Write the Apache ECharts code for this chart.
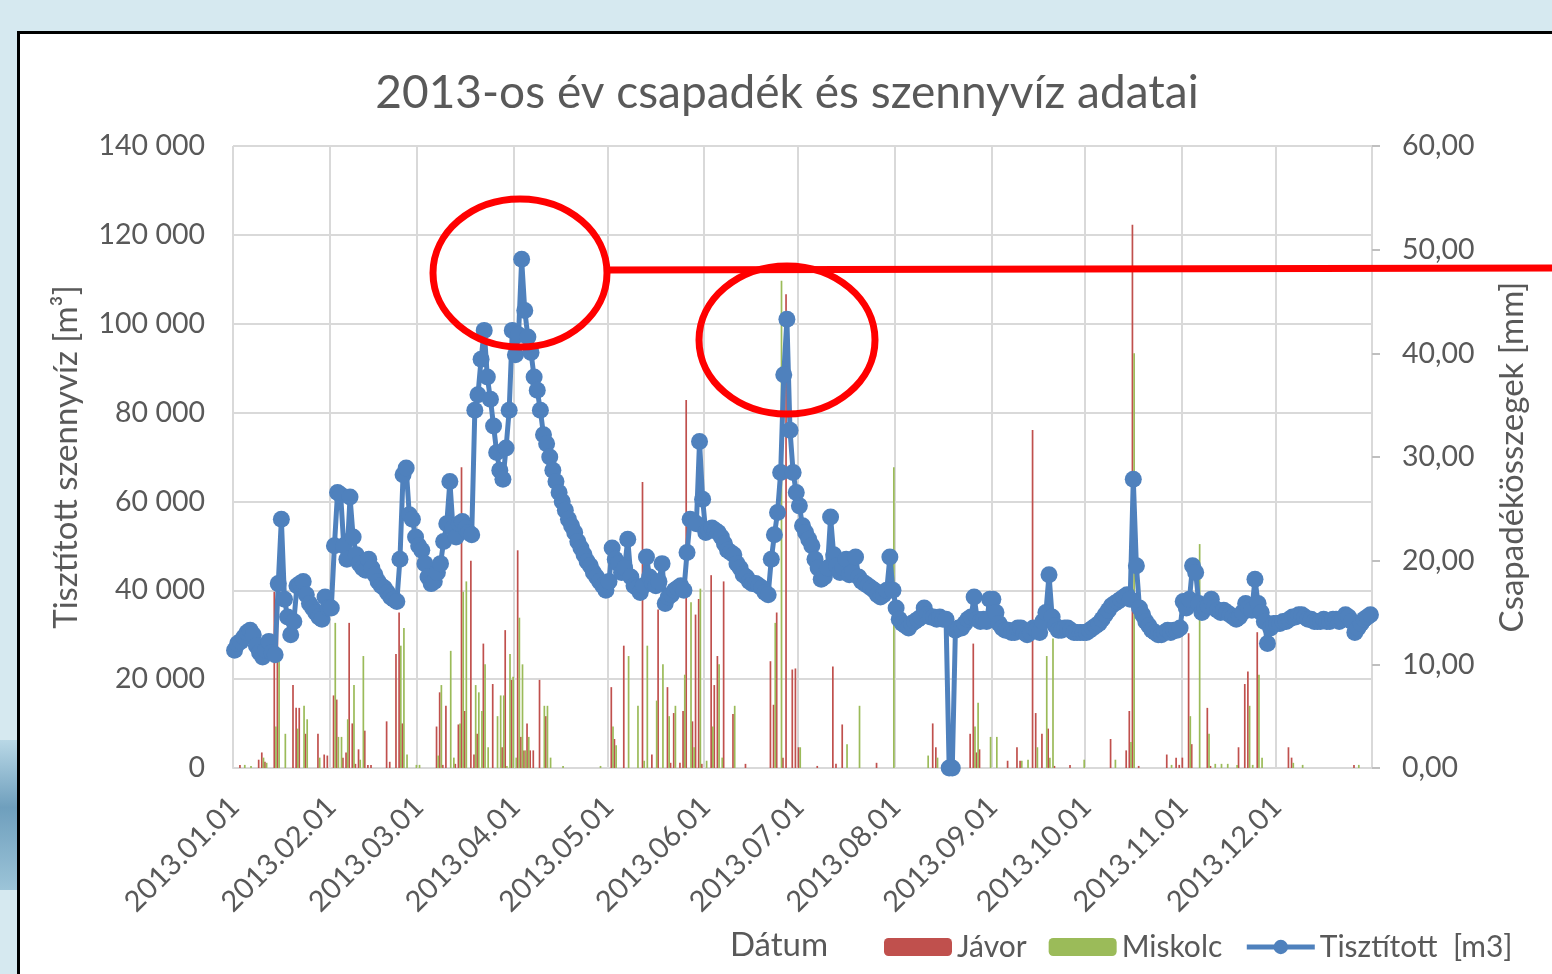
<!DOCTYPE html>
<html>
<head>
<meta charset="utf-8">
<script src="https://cdn.jsdelivr.net/npm/echarts@6/dist/echarts.min.js"></script>
<style>
    html, body { margin: 0; padding: 0; }
    body { width: 1552px; height: 974px; background: #d6e9f0; overflow: hidden; position: relative; }
    .water { position: absolute; left: 0; top: 740px; width: 17px; height: 150px;
        background: linear-gradient(180deg, #b9d8e6 0%, #6f9fbd 45%, #9cc4d8 100%); }
    .frame { position: absolute; left: 17px; top: 31px; width: 1560px; height: 960px;
        background: #fff; border: 3px solid #000; box-sizing: border-box; }
    #chart { position: absolute; left: 0; top: 0; width: 1552px; height: 974px; }
</style>
</head>
<body>
<div class="water"></div>
<div class="frame"></div>
<div id="chart"></div>
<script>
// 2013-as napi adatok: tisztított szennyvíz [m3] (bal tengely), csapadék [mm] (jobb tengely)

const MONTH_LABELS = ['2013.01.01', '2013.02.01', '2013.03.01', '2013.04.01', '2013.05.01', '2013.06.01',
    '2013.07.01', '2013.08.01', '2013.09.01', '2013.10.01', '2013.11.01', '2013.12.01']
const MONTH_DAYS = [31, 28, 31, 30, 31, 30, 31, 31, 30, 31, 30, 31]
const Y_LEFT_TICKS = [0, 20000, 40000, 60000, 80000, 100000, 120000, 140000]
const Y_RIGHT_TICKS = [0, 10, 20, 30, 40, 50, 60]

// tisztított szennyvíz havonta, naponként [m3]
const tisztJan = [26500, 28000, 28500, 29500, 30500, 31000, 30000, 27500, 26000, 25000,
    26500, 28500, 26000, 25500, 41500, 56000, 38000, 34000, 30000, 33000,
    41000, 41500, 42000, 39000, 37000, 36000, 35000, 34000, 33500, 38500, 36000]
const tisztFeb = [36000, 50000, 62000, 61500, 50000, 47000, 61000, 52000, 48000, 46000,
    45000, 44500, 47000, 45000, 43500, 42000, 41000, 40500, 39500, 38500,
    38000, 37500, 47000, 66000, 67500, 57000, 56000, 52000]
const tisztMar = [50000, 49000, 46000, 43000, 41500, 42000, 44000, 46000, 51000, 55000,
    64500, 54000, 52000, 55000, 55500, 54000, 53000, 52500, 80500, 84000,
    92000, 98500, 88000, 83000, 77000, 71000, 67000, 65000, 72000, 80500, 98500]
const tisztApr = [93000, 97500, 114500, 103000, 97000, 93500, 88000, 85000, 80500, 75000,
    73000, 70000, 67000, 64500, 62000, 60000, 58000, 56000, 54500, 53000,
    51000, 49500, 48000, 46500, 45500, 44000, 43000, 42000, 41000, 40000]
const tisztMay = [42000, 49500, 47000, 46000, 44000, 45000, 51500, 43000, 41000, 40500,
    39500, 41000, 47500, 43000, 41500, 41000, 42000, 46000, 37000, 38500,
    39000, 40000, 40500, 41000, 40000, 48500, 56000, 55500, 55000, 73500, 60500]
const tisztJun = [53000, 53500, 54000, 53500, 53000, 52000, 50500, 49000, 48500, 48000,
    46000, 45000, 43500, 43000, 42000, 41500, 41500, 41000, 40500, 39500,
    39000, 47000, 52500, 57500, 66500, 88500, 101000, 76000, 66500, 62000]
const tisztJul = [59000, 54500, 53000, 51500, 50000, 47000, 45000, 42500, 43000, 45000,
    56500, 48000, 45500, 44000, 45000, 47000, 43500, 44000, 47500, 43000,
    42000, 41500, 41000, 40500, 40000, 39000, 38500, 39000, 40000, 47500, 40000]
const tisztAug = [36000, 33500, 32500, 32000, 31500, 32500, 33000, 33500, 34000, 36000,
    34500, 34000, 34000, 33500, 34000, 33500, 33500, 0, 0, 31000,
    31500, 31500, 32500, 33500, 34000, 38500, 33500, 33000, 33500, 33000, 38000]
const tisztSep = [38000, 35000, 32500, 31500, 31000, 31000, 30500, 30500, 31500, 31500,
    30500, 30000, 30500, 31500, 31000, 30500, 33000, 35000, 43500, 34000,
    32000, 31000, 31000, 31500, 31500, 31000, 30500, 30500, 30500, 30500]
const tisztOct = [30500, 31000, 31500, 32000, 32500, 33500, 34500, 35500, 36500, 37000,
    37500, 38000, 38500, 39000, 38000, 65000, 45500, 36000, 34500, 33000,
    32000, 31000, 30500, 30000, 30000, 30500, 31000, 30500, 31000, 31000, 31500]
const tisztNov = [37500, 36000, 38000, 45500, 44000, 37000, 35000, 36000, 36500, 38000,
    36000, 35500, 35000, 35500, 35000, 34500, 34000, 33500, 34000, 35000,
    37000, 36000, 35500, 42500, 37000, 35000, 33000, 28000, 31500, 32500]
const tisztDec = [32500, 32500, 33000, 33000, 33500, 34000, 34000, 34500, 34500, 34000,
    33500, 33500, 33000, 33000, 33000, 33500, 33000, 33000, 33500, 33500,
    33000, 33500, 34500, 34000, 33000, 30500, 31500, 32500, 33500, 34000, 34500]

// csapadék [napindex, mm] - csak az esős napok
const javorRain = [[2, 0.3], [8, 0.8], [9, 1.5], [10, 0.6], [13, 17], [14, 17], [19, 8], [20, 5.8], [21, 5.8],
    [23, 3.3], [27, 3.3], [29, 1.3], [30, 1.2], [32, 7], [33, 6.6], [35, 1], [36, 1.5], [37, 14], [38, 4.3],
    [39, 0.4], [40, 1.8], [42, 3.6], [43, 0.3], [44, 0.3], [49, 4.5], [50, 0.6], [52, 11], [53, 15], [54, 4.3],
    [65, 4], [66, 7.3], [67, 0.3], [68, 6], [71, 0.4], [72, 4.2], [73, 29], [74, 5.5], [76, 20], [77, 1.3],
    [78, 3.3], [80, 12], [83, 8.1], [86, 2], [87, 13.3], [89, 8.5], [91, 21], [92, 3], [93, 1.7], [94, 4.3],
    [95, 1.7], [96, 1.7], [98, 8.5], [100, 5],
    [121, 7.8], [122, 2.8], [125, 11.8], [131, 27.6], [134, 1.3], [136, 15.3], [139, 7.8], [140, 0.5],
    [141, 5.3], [143, 0.5], [144, 5.5], [145, 35.5], [147, 4.5], [148, 14.8], [149, 16.3], [150, 0.4],
    [153, 18.6], [154, 8], [155, 10.8], [157, 18], [160, 5.2], [164, 0.4], [172, 10.3], [173, 6.1], [174, 15],
    [176, 1], [177, 45.7], [179, 9.5], [180, 9.6],
    [181, 2], [187, 0.2], [192, 9.8], [193, 0.4], [195, 4.2], [206, 0.5], [224, 4.3], [225, 2], [236, 3.3],
    [237, 12], [238, 1.5], [239, 1.8],
    [248, 0.7], [251, 2], [252, 0.7], [256, 32.6], [257, 5.3], [259, 3.3], [261, 3.8], [263, 0.2], [268, 0.3],
    [281, 2.8], [286, 1.7], [287, 5.5], [288, 52.4], [290, 0.2], [299, 1.3], [302, 1],
    [303, 0.3], [304, 1], [306, 13], [307, 2.3], [312, 5.8], [313, 0.2], [322, 2], [324, 8.1], [325, 9.3],
    [328, 13.1], [338, 2], [339, 1], [359, 0.3]]
const miskolcRain = [[3, 0.3], [5, 0.2], [9, 1], [10, 0.5], [13, 4], [14, 10.3], [16, 3.3], [20, 3.8], [22, 6],
    [23, 4.7], [27, 1], [32, 14], [33, 3], [34, 3], [36, 4.7], [38, 8], [40, 0.8], [41, 10.8], [53, 11.8],
    [54, 13.5], [55, 1.3], [58, 0.3],
    [59, 0.3], [65, 1.2], [66, 8], [69, 11.3], [70, 1], [72, 4.3], [73, 17], [74, 18], [77, 8], [78, 7.3],
    [79, 5.5], [80, 10], [81, 2], [84, 5], [85, 7], [86, 7], [87, 0.2], [88, 11], [89, 8.8], [90, 1], [91, 14.5],
    [92, 10], [93, 1.7], [94, 3], [99, 6], [100, 6], [101, 1], [105, 0.2], [117, 0.2],
    [121, 4], [122, 2.2], [126, 10.8], [129, 6], [131, 0.7], [132, 11.8], [135, 6.5], [137, 10], [139, 5],
    [141, 6], [144, 9], [146, 16], [147, 2], [149, 17.3], [151, 0.7], [153, 4], [155, 10], [156, 1], [160, 6],
    [173, 14], [175, 47], [181, 2],
    [196, 2.3], [200, 6], [211, 29], [222, 1.2], [225, 1], [237, 4], [238, 6.3], [242, 3],
    [244, 3], [252, 0.7], [254, 0.8], [257, 2], [260, 10.8], [261, 1], [262, 12.5], [272, 0.8], [282, 0.8],
    [287, 2.5], [288, 40], [300, 0.3],
    [306, 5], [309, 21.6], [312, 3.3], [314, 0.4], [316, 0.4], [318, 0.4], [321, 0.3], [325, 6], [326, 0.3],
    [328, 9], [329, 1], [339, 0.5], [342, 0.3], [360, 0.3]]

const FONT = 'Lato'
const TEXT = '#595959'
const GRID = '#d9d9d9'
const BLUE = '#4f81bd'

// napok (kategóriák) a hónapokból
const days = []
const monthStart = {}
MONTH_DAYS.forEach((n, m) => {
    monthStart[days.length] = true
    for (let d = 1; d <= n; d++) {
        days.push(`2013.${String(m + 1).padStart(2, '0')}.${String(d).padStart(2, '0')}`)
    }
})

const tisztitott = [].concat(tisztJan, tisztFeb, tisztMar, tisztApr, tisztMay, tisztJun,
    tisztJul, tisztAug, tisztSep, tisztOct, tisztNov, tisztDec)

function toDaily(events) {
    const arr = days.map(() => 0)
    events.forEach(([i, v]) => { arr[i] = v })
    return arr
}

const thousands = v => String(v).replace(/\B(?=(\d{3})+(?!\d))/g, ' ')

const chart = echarts.init(document.getElementById('chart'), null, { renderer: 'canvas' })

chart.setOption({
    animation: false,
    textStyle: { fontFamily: FONT },
    grid: { left: 233, right: 180, top: 146, bottom: 206 },
    legend: {
        left: 879,
        top: 927,
        itemWidth: 68,
        itemHeight: 18,
        itemGap: 22,
        textStyle: { fontFamily: FONT, fontSize: 30, color: TEXT },
        data: ['Jávor', 'Miskolc', {
            name: 'Tisztított  [m3]',
            lineStyle: { width: 5, color: BLUE },
            itemStyle: { color: BLUE }
        }]
    },
    xAxis: {
        type: 'category',
        data: days,
        boundaryGap: true,
        axisLine: { lineStyle: { color: GRID, width: 2 } },
        axisTick: { show: false },
        splitLine: {
            show: true,
            interval: i => !!monthStart[i],
            lineStyle: { color: GRID, width: 2 }
        },
        axisLabel: {
            interval: i => !!monthStart[i],
            rotate: 45,
            margin: 34,
            fontSize: 29,
            color: TEXT,
            fontFamily: FONT,
            formatter: v => MONTH_LABELS.indexOf(v) >= 0 ? v : ''
        }
    },
    yAxis: [{
        type: 'value',
        min: Y_LEFT_TICKS[0],
        max: Y_LEFT_TICKS[Y_LEFT_TICKS.length - 1],
        interval: Y_LEFT_TICKS[1] - Y_LEFT_TICKS[0],
        name: 'Tisztított szennyvíz [m³]',
        nameLocation: 'middle',
        nameRotate: 90,
        nameGap: 150,
        nameTextStyle: { fontFamily: FONT, fontSize: 33, color: TEXT },
        axisLine: { show: false },
        axisTick: { show: false },
        splitLine: { lineStyle: { color: GRID, width: 2 } },
        axisLabel: { fontSize: 28.5, color: TEXT, fontFamily: FONT, margin: 28, formatter: thousands }
    }, {
        type: 'value',
        position: 'right',
        min: Y_RIGHT_TICKS[0],
        max: Y_RIGHT_TICKS[Y_RIGHT_TICKS.length - 1],
        interval: Y_RIGHT_TICKS[1] - Y_RIGHT_TICKS[0],
        name: 'Csapadékösszegek [mm]',
        nameLocation: 'middle',
        nameRotate: 90,
        nameGap: 124,
        nameTextStyle: { fontFamily: FONT, fontSize: 33, color: TEXT },
        axisLine: { show: true, lineStyle: { color: GRID, width: 2 } },
        axisTick: { show: true, length: 8, lineStyle: { color: '#bfbfbf', width: 2 } },
        splitLine: { show: false },
        axisLabel: { fontSize: 28.5, color: TEXT, fontFamily: FONT, margin: 30,
            formatter: v => v.toFixed(2).replace('.', ',') }
    }],
    series: [{
        name: 'Jávor',
        type: 'bar',
        yAxisIndex: 1,
        barWidth: 1.7,
        barGap: '0%',
        itemStyle: { color: '#c0504d' },
        data: toDaily(javorRain)
    }, {
        name: 'Miskolc',
        type: 'bar',
        yAxisIndex: 1,
        barWidth: 1.7,
        barGap: '0%',
        itemStyle: { color: '#9bbb59' },
        data: toDaily(miskolcRain)
    }, {
        name: 'Tisztított  [m3]',
        type: 'line',
        yAxisIndex: 0,
        z: 5,
        symbol: 'circle',
        symbolSize: 17,
        showAllSymbol: true,
        lineStyle: { color: BLUE, width: 5 },
        itemStyle: { color: BLUE },
        data: tisztitott
    }],
    graphic: [{
        type: 'text',
        x: 787,
        y: 93,
        style: { text: '2013-os év csapadék és szennyvíz adatai', fontFamily: FONT, fontSize: 46,
            fill: TEXT, align: 'center', verticalAlign: 'middle' }
    }, {
        type: 'text',
        x: 779,
        y: 945,
        style: { text: 'Dátum', fontFamily: FONT, fontSize: 33, fill: TEXT, align: 'center', verticalAlign: 'middle' }
    }, {
        // piros kiemelések
        type: 'ellipse',
        z: 100,
        shape: { cx: 520, cy: 273, rx: 87, ry: 74 },
        style: { fill: 'none', stroke: '#ff0000', lineWidth: 7 }
    }, {
        type: 'ellipse',
        z: 100,
        shape: { cx: 787, cy: 340, rx: 88, ry: 74 },
        style: { fill: 'none', stroke: '#ff0000', lineWidth: 7 }
    }, {
        type: 'line',
        z: 100,
        shape: { x1: 607, y1: 270, x2: 1552, y2: 268 },
        style: { stroke: '#ff0000', lineWidth: 7 }
    }]
})
</script>
</body>
</html>
